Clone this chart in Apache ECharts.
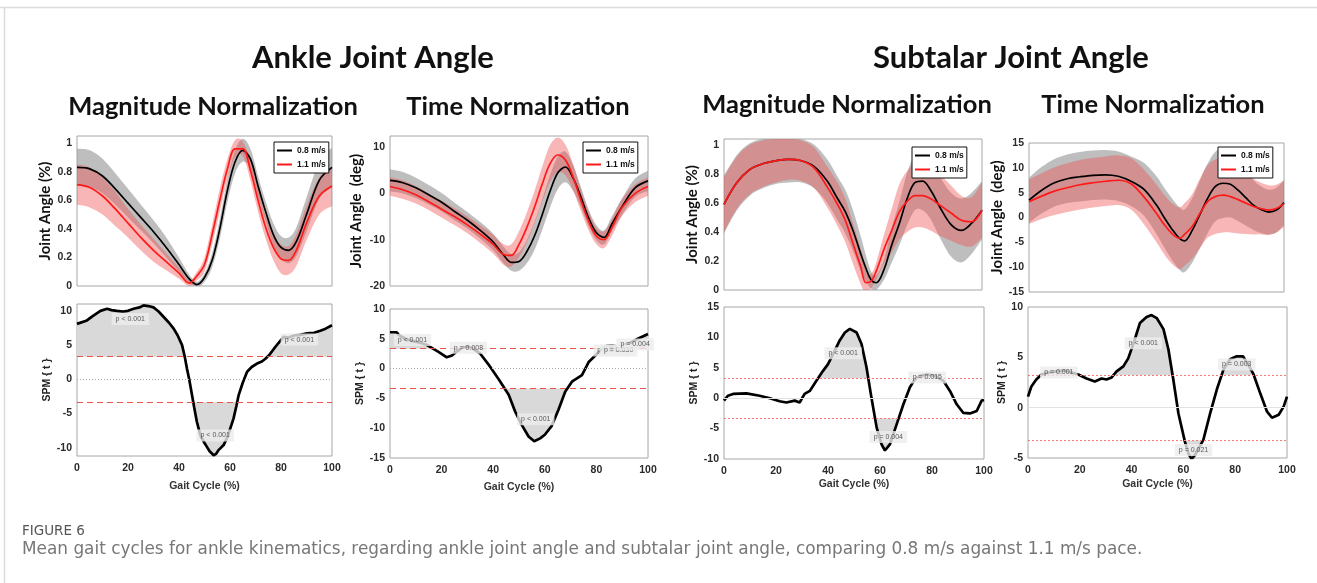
<!DOCTYPE html>
<html><head><meta charset="utf-8">
<script src="https://cdn.jsdelivr.net/npm/echarts@6/dist/echarts.min.js"></script>
<style>html,body{margin:0;padding:0;background:#fff}#c{width:1317px;height:583px}</style>
</head><body><div id="c"></div>
<script>
// ---------- DATA ----------
// Ankle joint angle, magnitude normalization (%)
const A1X = [0,5,10,15,20,25,30,35,40,44,47,50,53,56,59,62,65,68,71,74,77,80,83,86,90,95,100];
const A1_08 = [0.83,0.82,0.77,0.68,0.58,0.48,0.38,0.27,0.15,0.05,0.01,0.06,0.18,0.40,0.67,0.87,0.95,0.89,0.70,0.52,0.36,0.27,0.25,0.31,0.50,0.74,0.83];
const A1_08sd = [0.13,0.13,0.12,0.11,0.10,0.09,0.08,0.07,0.05,0.03,0.02,0.03,0.05,0.07,0.08,0.08,0.08,0.07,0.07,0.07,0.08,0.08,0.09,0.10,0.12,0.13,0.14];
const A1_11 = [0.71,0.69,0.63,0.54,0.44,0.34,0.25,0.17,0.09,0.02,0.07,0.15,0.36,0.60,0.82,0.96,0.96,0.81,0.60,0.41,0.27,0.19,0.18,0.25,0.44,0.63,0.70];
const A1_11sd = [0.14,0.14,0.13,0.12,0.10,0.09,0.08,0.06,0.04,0.02,0.03,0.05,0.07,0.08,0.07,0.06,0.05,0.07,0.08,0.08,0.09,0.10,0.10,0.11,0.12,0.13,0.14];
// Ankle joint angle, time normalization (deg)
const A2X = [0,5,10,15,20,25,30,35,40,44,47,50,53,56,59,62,65,68,71,74,77,80,83,86,90,95,100];
const A2_08 = [2.8,2.3,1.2,-0.3,-1.9,-3.9,-5.8,-8.0,-10.5,-13.3,-14.9,-14.7,-12.6,-9.2,-4.6,0.4,4.4,5.7,3.3,-0.8,-5.3,-8.5,-9.5,-6.6,-2.8,1.2,2.7];
const A2_08sd = [2.4,2.3,2.2,2.1,2.0,1.9,1.8,1.8,1.8,1.8,1.8,2.0,2.5,3.0,3.3,3.5,3.5,3.3,2.8,2.2,1.8,1.6,1.5,1.6,1.8,2.0,2.2];
const A2_11 = [1.5,0.8,-0.3,-1.8,-3.4,-5.0,-6.8,-8.8,-11.0,-13.2,-13.4,-11.0,-7.4,-3.0,2.0,6.4,8.3,7.2,3.5,-1.5,-6.0,-9.2,-10.0,-7.4,-3.0,0.0,1.5];
const A2_11sd = [2.0,2.0,1.9,1.8,1.8,1.8,1.8,1.9,2.0,2.2,2.4,2.8,3.2,3.5,3.8,4.0,3.8,3.3,2.8,2.3,2.0,1.8,1.8,1.8,1.8,1.9,2.0];
// Subtalar joint angle, magnitude normalization (%)
const S1X = [0,5,10,15,20,25,30,35,40,44,47,50,53,55,57,59,62,65,68,71,74,77,80,84,88,92,96,100];
const S1_08 = [0.59,0.74,0.83,0.87,0.89,0.90,0.89,0.85,0.75,0.63,0.54,0.41,0.25,0.15,0.07,0.05,0.14,0.31,0.46,0.63,0.74,0.75,0.69,0.56,0.45,0.41,0.46,0.55];
const S1_08sd = [0.20,0.19,0.18,0.17,0.16,0.16,0.15,0.15,0.15,0.15,0.15,0.14,0.12,0.09,0.06,0.05,0.07,0.12,0.15,0.18,0.19,0.20,0.20,0.21,0.22,0.22,0.21,0.20];
const S1_11 = [0.59,0.74,0.83,0.87,0.89,0.90,0.89,0.84,0.71,0.59,0.48,0.32,0.16,0.05,0.06,0.13,0.28,0.41,0.54,0.61,0.65,0.65,0.63,0.58,0.53,0.48,0.47,0.55];
const S1_11sd = [0.19,0.18,0.17,0.16,0.15,0.14,0.14,0.14,0.14,0.15,0.15,0.14,0.12,0.08,0.05,0.06,0.10,0.15,0.19,0.21,0.22,0.22,0.22,0.21,0.19,0.17,0.17,0.19];
// Subtalar joint angle, time normalization (deg)
const S2X = [0,5,10,15,20,25,30,35,40,45,50,53,56,59,61,64,67,70,73,76,79,82,85,88,91,94,97,100];
const S2_08 = [3.5,5.5,7.0,7.8,8.2,8.5,8.6,8.3,7.3,5.7,2.5,0.0,-2.3,-4.2,-4.7,-2.6,0.6,3.8,6.2,6.9,6.7,5.5,4.0,2.5,1.6,1.1,1.5,3.0];
const S2_08sd = [4.5,4.7,4.8,4.9,5.0,5.0,5.0,5.0,5.0,5.3,5.8,6.0,6.2,6.3,6.3,6.5,6.8,7.0,7.0,7.0,6.7,6.2,5.6,5.0,4.7,4.5,4.5,4.5];
const S2_11 = [3.2,4.3,5.3,6.0,6.6,7.0,7.3,7.5,6.8,4.2,0.8,-1.4,-3.2,-4.2,-3.4,-1.8,0.8,3.2,4.2,4.5,4.2,3.6,2.9,2.2,1.8,1.5,1.8,2.8];
const S2_11sd = [4.5,4.6,4.8,4.9,5.0,5.0,5.0,5.0,5.2,5.5,5.8,6.0,6.1,6.2,6.3,6.5,7.0,7.3,7.5,7.5,7.2,6.8,6.2,5.6,5.2,5.0,4.8,4.7];

// SPM {t} curves
const P1X = [0,3.9,6,9.2,11.8,13.5,15.7,18,20,22.2,24.5,26.1,28,30,32,34,36,37.9,39.5,41.2,42.2,43.1,44,45.1,46,47,48.4,50,51,52,53.6,54.5,55.6,57.5,58.8,60,61.4,62.5,63.4,65,66.7,68.5,70.6,72.5,73.9,75.5,77.1,79,81,83,85,87.5,90.2,93,95.4,97.5,100];
const P1Y = [8.1,8.6,9.2,10.0,10.3,10.1,10.0,9.9,10.0,10.3,10.5,10.8,10.7,10.5,9.9,9.1,8.3,7.4,6.4,5.0,3.4,1.6,0.0,-2.3,-4.2,-6.2,-8.2,-9.3,-9.9,-10.5,-11.1,-10.9,-10.3,-9.6,-8.6,-7.3,-5.7,-3.9,-2.3,-0.5,1.1,1.8,2.3,2.6,3.0,3.6,4.4,5.3,6.2,6.1,6.4,6.5,6.7,6.8,7.1,7.4,7.9];
const P2X = [0,2.6,3.5,6,9,12,14.2,16.5,18.8,22,24,26,28,30,32,35,38,42,46,48.5,51,53.7,55.9,58.2,60,62.7,65.3,67.9,70.5,74.4,77,79.6,82,84,86,88,90,93,96,99,100];
const P2Y = [6.1,6.1,5.6,5.0,4.6,4.3,4.0,3.4,2.8,1.9,2.2,2.9,3.5,3.7,3.4,2.5,0.8,-1.7,-4.4,-7.2,-9.4,-11.4,-12.2,-11.7,-11.1,-9.6,-6.9,-3.9,-2.2,-1.1,1.1,2.2,3.2,3.8,3.9,3.7,3.8,4.3,5.0,5.6,5.8];
const P3X = [0,1.5,3.5,8.6,13.7,17.6,21.4,24,27.2,29.1,31,33,35.6,38.1,40,42,44.5,46.5,48.4,51,52.9,54.8,56.7,58.7,60.6,61.9,63.8,66.4,69,71.5,73.4,75.5,78,81,84.3,86.9,89.5,92,94.6,97.2,99.1,100];
const P3Y = [-0.4,0.4,0.7,0.8,0.4,0.0,-0.5,-0.7,-0.4,-0.7,0.7,1.2,2.9,4.5,5.6,7.3,9.5,10.8,11.4,10.8,8.9,5.1,0.1,-4.8,-7.6,-8.6,-7.6,-4.3,-1.0,1.8,3.1,3.7,3.9,3.7,2.9,1.2,-1.0,-2.4,-2.5,-2.1,-0.4,-0.3];
const P4X = [0,1.3,3.2,5.2,8,11,14,17,19.4,22.6,25.8,28.4,30.3,32.3,34.2,36.8,38.7,41,43.2,45.8,47.7,49.7,52.3,54.2,56.1,58.1,60.6,62,63.2,64.5,66,67.7,70.3,72.9,75.5,78,80.6,83,85,87.1,89.7,92.3,94.2,96.8,98.7,100];
const P4Y = [1.1,2.1,2.8,3.3,3.5,3.6,3.7,3.5,3.3,2.9,2.6,2.9,2.8,3.0,3.6,4.1,4.9,6.6,8.4,9.0,9.2,8.9,7.8,5.8,2.8,-0.6,-3.4,-4.6,-5.1,-4.7,-4.0,-3.2,-0.6,1.8,3.8,4.8,5.1,5.1,4.3,3.3,1.4,-0.4,-1.0,-0.7,0.1,1.1];
// critical thresholds
const THR = [3.3, 3.35, 3.3, 3.25];
// p-value annotations [gait %, t, text]
const P1LAB = [[20.9,8.8,'p < 0.001'],[54.2,-8.2,'p < 0.001'],[87.2,5.8,'p < 0.001']];
const P2LAB = [[8.7,4.8,'p < 0.001'],[30.4,3.5,'p = 0.008'],[56.5,-8.5,'p < 0.001'],[86,3.05,'p = 0.030'],[88.6,3.05,'p = 0.030'],[95,4.05,'p = 0.004']];
const P3LAB = [[45.8,7.4,'p < 0.001'],[63.2,-6.4,'p = 0.004'],[78.2,3.4,'p = 0.015']];
const P4LAB = [[11.9,3.5,'p = 0.001'],[44.5,6.4,'p < 0.001'],[80.6,4.3,'p = 0.003'],[63.9,-4.2,'p = 0.021']];
// tick labels
const T_A1 = [0,0.2,0.4,0.6,0.8,1], T_P1 = [-10,-5,0,5,10];
const T_A2 = [-20,-10,0,10], T_P2 = [-15,-10,-5,0,5,10];
const T_S1 = [0,0.2,0.4,0.6,0.8,1], T_P3 = [-10,-5,0,5,10,15];
const T_S2 = [-15,-10,-5,0,5,10,15], T_P4 = [-5,0,5,10];
const GAIT_TICKS = [0,20,40,60,80,100];
const LEG = ['0.8 m/s','1.1 m/s'];

// ---------- CHART ----------
const AX_FONT = '"Liberation Sans", Arial, sans-serif';
const grids = [
  {left:77, top:136, width:255, height:150},
  {left:77, top:304, width:255, height:152},
  {left:390, top:136, width:258, height:150},
  {left:390, top:309, width:258, height:149},
  {left:724, top:139, width:258, height:151},
  {left:724, top:307, width:260, height:152},
  {left:1029, top:143, width:255, height:149},
  {left:1028, top:307, width:259, height:151}
].map(g => Object.assign({show:true, borderColor:'#a6a6a6', borderWidth:1, backgroundColor:'rgba(0,0,0,0)'}, g));

const tickLabel = {fontFamily:AX_FONT, fontWeight:'bold', fontSize:10.5, color:'#2a2a2a'};
const xAxes = [], yAxes = [], series = [];

function addX(gi, bottom, gap){
  xAxes.push({gridIndex:gi, type:'value', min:0, max:100,
    axisLine:{show:false}, axisTick:{show:false}, splitLine:{show:false},
    axisLabel:Object.assign({show:bottom, margin:7, customValues:GAIT_TICKS}, tickLabel),
    name: bottom ? 'Gait Cycle (%)' : '', nameLocation:'middle', nameGap:gap||24,
    nameTextStyle:{fontFamily:AX_FONT, fontWeight:'bold', fontSize:10.5, color:'#333'}});
}
function addY(gi, min, max, ticks, name, gap, big){
  yAxes.push({gridIndex:gi, type:'value', min:min, max:max,
    axisLine:{show:false}, axisTick:{show:false}, splitLine:{show:false},
    axisLabel:Object.assign({margin:5, customValues:ticks}, tickLabel),
    name:name, nameLocation:'middle', nameRotate:90, nameGap:gap,
    nameTextStyle: big ? {fontFamily:'Lato', fontWeight:'bold', fontSize:15, color:'#111'}
                       : {fontFamily:AX_FONT, fontWeight:'bold', fontSize:10.5, color:'#222'}});
}
// smooth (Catmull-Rom) path through pixel points
function crPath(pts, first){
  let d = (first ? 'M' : 'L') + pts[0][0] + ' ' + pts[0][1];
  for (let i = 0; i < pts.length - 1; i++){
    const p0 = pts[i-1] || pts[i], p1 = pts[i], p2 = pts[i+1], p3 = pts[i+2] || pts[i+1];
    const c1 = [p1[0] + (p2[0]-p0[0])/6, p1[1] + (p2[1]-p0[1])/6];
    const c2 = [p2[0] - (p3[0]-p1[0])/6, p2[1] - (p3[1]-p1[1])/6];
    d += ' C' + c1[0] + ' ' + c1[1] + ' ' + c2[0] + ' ' + c2[1] + ' ' + p2[0] + ' ' + p2[1];
  }
  return d;
}
function band(gi, x, m, s, color){
  series.push({type:'custom', xAxisIndex:gi, yAxisIndex:gi, data:[[0,0]], silent:true, clip:true, z:1,
    renderItem:(p, api) => {
      const up = x.map((v,i) => api.coord([v, m[i]+s[i]]));
      const lo = x.map((v,i) => api.coord([v, m[i]-s[i]])).reverse();
      return {type:'path', shape:{pathData: crPath(up, true) + ' ' + crPath(lo, false) + ' Z'},
        style:{fill:color, stroke:null}};
    }});
}
function meanLine(gi, x, m, name, color){
  series.push({type:'line', name:name, xAxisIndex:gi, yAxisIndex:gi, data:x.map((v,i)=>[v,m[i]]),
    symbol:'none', smooth:0.35, color:color, lineStyle:{color:color, width:1.7}, z:3});
}
function topPanel(gi, x, m08, s08, m11, s11){
  band(gi, x, m08, s08, 'rgba(150,150,150,0.62)');
  band(gi, x, m11, s11, 'rgba(238,80,80,0.42)');
  meanLine(gi, x, m08, LEG[0], '#000');
  meanLine(gi, x, m11, LEG[1], '#ff1a1a');
}
function exceed(x, y, thr){
  const polys = [];
  [1,-1].forEach(sg => {
    let cur = null;
    for (let i=0;i<x.length;i++){
      const v = sg*y[i]-thr;
      if (i>0){
        const vp = sg*y[i-1]-thr;
        if ((vp>0)!==(v>0)){
          const t = vp/(vp-v), xc = x[i-1]+t*(x[i]-x[i-1]);
          if (cur){ cur.push([xc, sg*thr]); polys.push(cur); cur=null; }
          else cur = [[xc, sg*thr]];
        }
      }
      if (v>0){ if(!cur) cur=[[x[i], sg*thr]]; cur.push([x[i], y[i]]); }
    }
    if (cur){ cur.push([x[x.length-1], sg*thr]); polys.push(cur); }
  });
  return polys;
}
function spmPanel(gi, x, y, thr, labs, dashed){
  const polys = exceed(x, y, thr);
  series.push({type:'custom', xAxisIndex:gi, yAxisIndex:gi, data:[[0,0]], silent:true, z:2, clip:true,
    renderItem:(p, api)=>({type:'group', children: polys.map(poly=>({type:'polygon',
      shape:{points: poly.map(pt=>api.coord(pt))}, style:{fill:'#d9d9d9'}}))})});
  const thrStyle = dashed ? {color:'#e5534b', width:1.2, type:[6,4]} : {color:'#f07a7a', width:1, type:[2,2]};
  const zeroStyle = dashed ? {color:'#a8a8a8', width:1, type:[1,2]} : {color:'#e2e2e2', width:1.2, type:'solid'};
  series.push({type:'line', xAxisIndex:gi, yAxisIndex:gi, data:x.map((v,i)=>[v,y[i]]), symbol:'none',
    lineStyle:{color:'#000', width:2.7}, z:4, silent:true,
    markLine:{silent:true, symbol:'none', label:{show:false}, animation:false,
      data:[{yAxis:thr, lineStyle:thrStyle},{yAxis:-thr, lineStyle:thrStyle},{yAxis:0, lineStyle:zeroStyle}]}});
  series.push({type:'scatter', xAxisIndex:gi, yAxisIndex:gi, symbolSize:0, silent:true, z:6,
    data: labs.map(l=>({value:[l[0],l[1]], label:{formatter:l[2]}})),
    label:{show:true, position:'inside', backgroundColor:'#ececec', padding:[3,4,2,4],
      fontFamily:AX_FONT, fontSize:7, color:'#333'}});
}

// panel 0/1 : ankle magnitude
addX(0,false); addY(0, 0, 1.05, T_A1, 'Joint Angle (%)', 24, true);
addX(1,true,25); addY(1, -11.2, 11, T_P1, 'SPM { t }', 19, false);
// panel 2/3 : ankle time
addX(2,false); addY(2, -20, 12.4, T_A2, 'Joint Angle  (deg)', 26, true);
addX(3,true,24); addY(3, -15, 10, T_P2, 'SPM { t }', 20, false);
// panel 4/5 : subtalar magnitude
addX(4,false); addY(4, 0, 1.04, T_S1, 'Joint Angle (%)', 24, true);
addX(5,true,20); addY(5, -10, 15, T_P3, 'SPM { t }', 22, false);
// panel 6/7 : subtalar time
addX(6,false); addY(6, -15, 15, T_S2, 'Joint Angle  (deg)', 19, true);
addX(7,true,21); addY(7, -5, 10, T_P4, 'SPM { t }', 18, false);

topPanel(0, A1X, A1_08, A1_08sd, A1_11, A1_11sd);
topPanel(2, A2X, A2_08, A2_08sd, A2_11, A2_11sd);
topPanel(4, S1X, S1_08, S1_08sd, S1_11, S1_11sd);
topPanel(6, S2X, S2_08, S2_08sd, S2_11, S2_11sd);
spmPanel(1, P1X, P1Y, THR[0], P1LAB, true);
spmPanel(3, P2X, P2Y, THR[1], P2LAB, true);
spmPanel(5, P3X, P3Y, THR[2], P3LAB, false);
spmPanel(7, P4X, P4Y, THR[3], P4LAB, false);

const legendPos = [[274,142],[583,142],[912,147],[1218,147]];
const legends = legendPos.map(p => ({data:LEG, left:p[0], top:p[1], orient:'vertical',
  icon:'rect', itemWidth:15, itemHeight:2, itemGap:5, itemTextGap:3, padding:[4,3,4,3],
  backgroundColor:'#fff', borderColor:'#111', borderWidth:1, selectedMode:false,
  textStyle:{fontFamily:AX_FONT, fontWeight:'bold', fontSize:8.5, color:'#111'}}));

function txt(x, y, text, font, fill, align){
  return {type:'text', x:x, y:y, silent:true, z:10,
    style:{text:text, font:font, fill:fill, textAlign:align||'center', textVerticalAlign:'middle'}};
}
const graphics = [
  {type:'line', silent:true, shape:{x1:0, y1:7.5, x2:1317, y2:7.5}, style:{stroke:'#dcdcdc', lineWidth:1.5}},
  {type:'line', silent:true, shape:{x1:4.5, y1:7.5, x2:4.5, y2:583}, style:{stroke:'#dcdcdc', lineWidth:1.5}},
  txt(373, 58, 'Ankle Joint Angle', 'bold 31px Lato', '#111'),
  txt(1011, 58, 'Subtalar Joint Angle', 'bold 31px Lato', '#111'),
  txt(213, 107, 'Magnitude Normalization', 'bold 25.5px Lato', '#111'),
  txt(518, 107, 'Time Normalization', 'bold 25.5px Lato', '#111'),
  txt(847, 105, 'Magnitude Normalization', 'bold 25.5px Lato', '#111'),
  txt(1153, 105, 'Time Normalization', 'bold 25.5px Lato', '#111'),
  txt(22, 531, 'FIGURE 6', '13.5px "DejaVu Sans"', '#555', 'left'),
  txt(22, 550, 'Mean gait cycles for ankle kinematics, regarding ankle joint angle and subtalar joint angle, comparing 0.8 m/s against 1.1 m/s pace.', '16.9px "DejaVu Sans"', '#777', 'left')
];

const chart = echarts.init(document.getElementById('c'), null, {renderer:'canvas'});
chart.setOption({animation:false, backgroundColor:'#fff', grid:grids, xAxis:xAxes, yAxis:yAxes,
  legend:legends, series:series, graphic:graphics});
</script></body></html>
